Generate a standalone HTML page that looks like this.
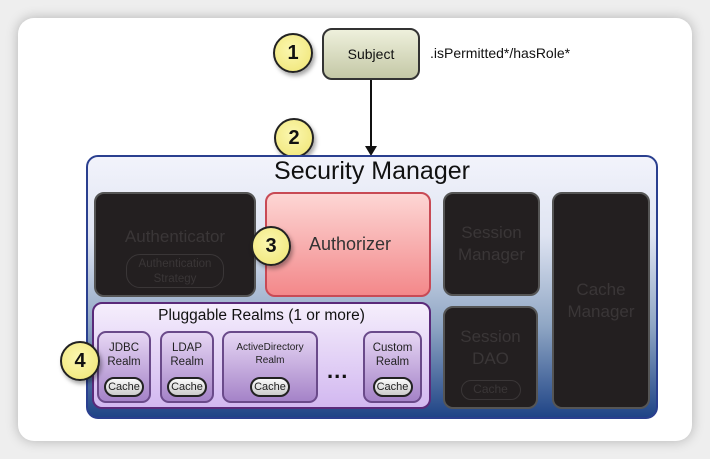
<!DOCTYPE html>
<html><head><meta charset="utf-8"><style>
*{margin:0;padding:0;box-sizing:border-box}
body{width:710px;height:459px;background:#eeeeee;position:relative;overflow:hidden;font-family:"Liberation Sans",Arial,sans-serif}
.a{position:absolute}
.card{left:18px;top:18px;width:674px;height:423px;background:#fff;border-radius:16px;box-shadow:0 0 12px rgba(0,0,0,.25)}
.num{width:40px;height:40px;border-radius:50%;background:radial-gradient(circle at 45% 40%,#fbf7b0,#efe472);border:2px solid #222;font-weight:bold;font-size:20px;display:flex;align-items:center;justify-content:center;box-shadow:2px 3px 4px rgba(0,0,0,.35);color:#111}
.dark{background:#231f20;border:2px solid #555;border-radius:10px;color:#3a3637;text-align:center;display:flex;flex-direction:column;align-items:center;justify-content:center;font-size:17px;line-height:22px}
.realm{border:2px solid #6a4a8a;border-radius:9px;background:linear-gradient(#e6d6f4,#a583c8);text-align:center;font-size:11.5px;line-height:14px;color:#222;padding-top:8px}
.cache{position:absolute;bottom:4px;left:50%;transform:translateX(-50%);width:40px;height:20px;border:2px solid #222;border-radius:10px;background:linear-gradient(#fafafa,#ccc);font-size:11px;line-height:16px;text-align:center;color:#222}
</style></head><body>
<div class="a card"></div>

<div class="a" style="left:322px;top:28px;width:98px;height:52px;border:2px solid #333;border-radius:10px;background:linear-gradient(#eef0dc,#c4c8a6);display:flex;align-items:center;justify-content:center;font-size:14px;color:#111">Subject</div>
<div class="a" style="left:430px;top:45px;font-size:14px;color:#111">.isPermitted*/hasRole*</div>
<div class="a num" style="left:273px;top:33px">1</div>
<div class="a" style="left:370px;top:80px;width:2px;height:68px;background:#111"></div>
<div class="a" style="left:365px;top:146px;width:0;height:0;border-left:6px solid transparent;border-right:6px solid transparent;border-top:10px solid #111"></div>
<div class="a num" style="left:274px;top:118px">2</div>

<div class="a" style="left:86px;top:155px;width:572px;height:264px;border:2px solid #2a3f8f;border-radius:12px;background:linear-gradient(#f2f3fb 0%,#dfe4f2 30%,#8fa6c4 65%,#1f4486 100%)"></div>
<div class="a" style="left:86px;top:157px;width:572px;text-align:center;font-size:25px;color:#111">Security Manager</div>

<div class="a dark" style="left:94px;top:192px;width:162px;height:105px;justify-content:flex-start;padding-top:32px">Authenticator
<div style="margin-top:6px;width:98px;height:34px;border:1.5px solid #3a3637;border-radius:14px;font-size:11.5px;line-height:15px;padding-top:2px">Authentication<br>Strategy</div></div>
<div class="a" style="left:265px;top:192px;width:166px;height:105px;border:2px solid #c84a55;border-radius:10px;background:linear-gradient(#fdd6d4,#f3888a);display:flex;align-items:center;justify-content:center;padding-left:4px;font-size:18px;color:#333">Authorizer</div>
<div class="a num" style="left:251px;top:226px">3</div>
<div class="a dark" style="left:443px;top:192px;width:97px;height:104px">Session<br>Manager</div>
<div class="a dark" style="left:443px;top:306px;width:95px;height:103px;justify-content:flex-start;padding-top:18px">Session<br>DAO
<div style="margin-top:10px;width:60px;height:20px;border:1.5px solid #3a3637;border-radius:10px;font-size:12px;line-height:17px">Cache</div></div>
<div class="a dark" style="left:552px;top:192px;width:98px;height:217px">Cache<br>Manager</div>

<div class="a" style="left:92px;top:302px;width:339px;height:107px;border:2px solid #5a2a7a;border-radius:10px;background:linear-gradient(#f5eefc,#d2b8f0)"></div>
<div class="a" style="left:92px;top:307px;width:339px;text-align:center;font-size:15.5px;color:#111">Pluggable Realms (1 or more)</div>
<div class="a realm" style="left:97px;top:331px;width:54px;height:72px">JDBC<br>Realm<div class="cache">Cache</div></div>
<div class="a realm" style="left:160px;top:331px;width:54px;height:72px">LDAP<br>Realm<div class="cache">Cache</div></div>
<div class="a realm" style="left:222px;top:331px;width:96px;height:72px;font-size:10px;line-height:13px">ActiveDirectory<br>Realm<div class="cache">Cache</div></div>
<div class="a" style="left:327px;top:358px;font-size:22px;font-weight:bold;color:#111;letter-spacing:1px">...</div>
<div class="a realm" style="left:363px;top:331px;width:59px;height:72px">Custom<br>Realm<div class="cache">Cache</div></div>
<div class="a num" style="left:60px;top:341px">4</div>
</body></html>
